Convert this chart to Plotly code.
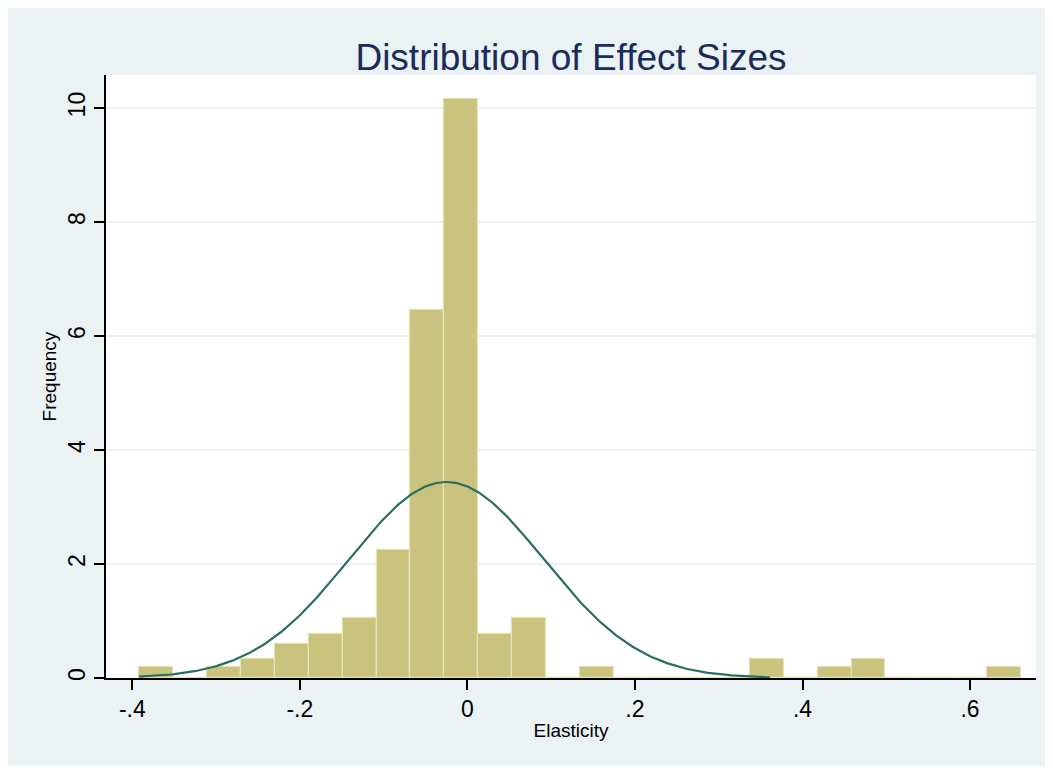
import numpy as np
import plotly.graph_objects as go

# ---- data ----
bin_start = -0.392
bin_width = 0.0405
bin_heights = [0.19, 0.0, 0.19, 0.325, 0.605, 0.78, 1.06, 2.25, 6.46, 10.16,
               0.78, 1.06, 0.0, 0.19, 0.0, 0.0, 0.0, 0.0, 0.33, 0.0,
               0.19, 0.33, 0.0, 0.0, 0.0, 0.19]
normal_mean = -0.025
normal_sd = 0.116
curve_from = -0.392
curve_to = 0.361
x_tick_vals = [-0.4, -0.2, 0, 0.2, 0.4, 0.6]
x_tick_text = ["-.4", "-.2", "0", ".2", ".4", ".6"]
y_tick_vals = [0, 2, 4, 6, 8, 10]
y_tick_text = ["0", "2", "4", "6", "8", "10"]

centres = [bin_start + bin_width * (i + 0.5) for i in range(len(bin_heights))]

cx = np.linspace(curve_from, curve_to, 300)
cy = np.exp(-0.5 * ((cx - normal_mean) / normal_sd) ** 2) / (normal_sd * np.sqrt(2 * np.pi))

OUTER = "#EAF2F3"
FONT = "Liberation Sans, Arial, sans-serif"

fig = go.Figure()
fig.add_trace(go.Bar(
    x=centres, y=bin_heights, width=bin_width,
    marker=dict(color="#CAC37D", line=dict(color="#E6E2B8", width=1.2)),
    showlegend=False, hoverinfo="x+y",
))
fig.add_trace(go.Scatter(
    x=cx, y=cy, mode="lines",
    line=dict(color="#2A6E64", width=2.2),
    showlegend=False,
))

fig.update_layout(
    width=1038, height=758,
    margin=dict(l=98, r=10, t=67, b=88),
    paper_bgcolor=OUTER,
    plot_bgcolor="white",
    bargap=0,
    font=dict(family=FONT, color="black"),
    title=dict(text="Distribution of Effect Sizes", x=0.5, xref="paper",
               y=1 - 49 / 758, yref="container", yanchor="middle",
               font=dict(size=37, color="#1B2B5B", family=FONT)),
)

fig.update_xaxes(
    range=[-0.4314, 0.6787],
    tickvals=x_tick_vals, ticktext=x_tick_text,
    ticks="outside", ticklen=10, tickwidth=1.5, tickcolor="black",
    showline=True, linecolor="black", linewidth=1.5,
    showgrid=False, zeroline=False,
    tickfont=dict(size=23, family=FONT),
    title=dict(text="Elasticity", font=dict(size=19, family=FONT), standoff=2),
)
fig.update_yaxes(
    range=[0, 10.58],
    tickvals=y_tick_vals, ticktext=y_tick_text, tickangle=-90,
    ticks="outside", ticklen=10, tickwidth=1.5, tickcolor="black",
    showline=True, linecolor="black", linewidth=1.5,
    showgrid=True, gridcolor=OUTER, gridwidth=1.5,
    zeroline=False,
    tickfont=dict(size=23, family=FONT),
    title=dict(text="Frequency", font=dict(size=19, family=FONT), standoff=2),
)

fig.write_html("out.html")
